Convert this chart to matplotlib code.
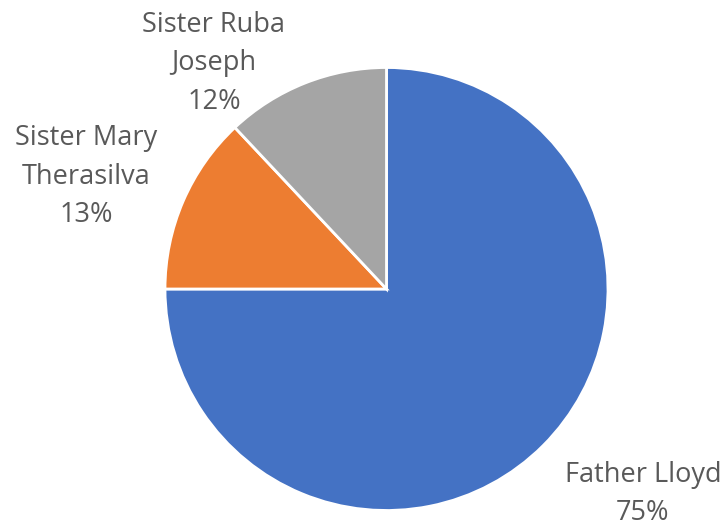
import matplotlib.pyplot as plt

# data
names = ["Father Lloyd", "Sister Mary\nTherasilva", "Sister Ruba\nJoseph"]
values = [75, 13, 12]
colors = ["#4472C4", "#ED7D31", "#A5A5A5"]

# label spots (data coords, pie radius = 1)
label_pos = [(1.158, -0.926), (-1.357, 0.506), (-0.779, 1.020)]

plt.rcParams['font.family'] = ['Open Sans', 'DejaVu Sans']

fig = plt.figure(figsize=(7.26, 5.30), dpi=100)
cx, cy, r = 386.5, 289, 221.5
ax = fig.add_axes([(cx - r) / 726, (530 - cy - r) / 530, 2 * r / 726, 2 * r / 530])

ax.pie(values, colors=colors, startangle=90, counterclock=False, radius=1,
       wedgeprops=dict(edgecolor='white', linewidth=2))
ax.set_xlim(-1, 1)
ax.set_ylim(-1, 1)
ax.set_aspect('equal')
ax.axis('off')

total = sum(values)
for name, v, (x, y) in zip(names, values, label_pos):
    ax.text(x, y, f"{name}\n{round(100 * v / total)}%", ha='center', va='center',
            fontsize=19.5, color='#595959', linespacing=1.5, clip_on=False)

fig.savefig("out.png", dpi=100)
